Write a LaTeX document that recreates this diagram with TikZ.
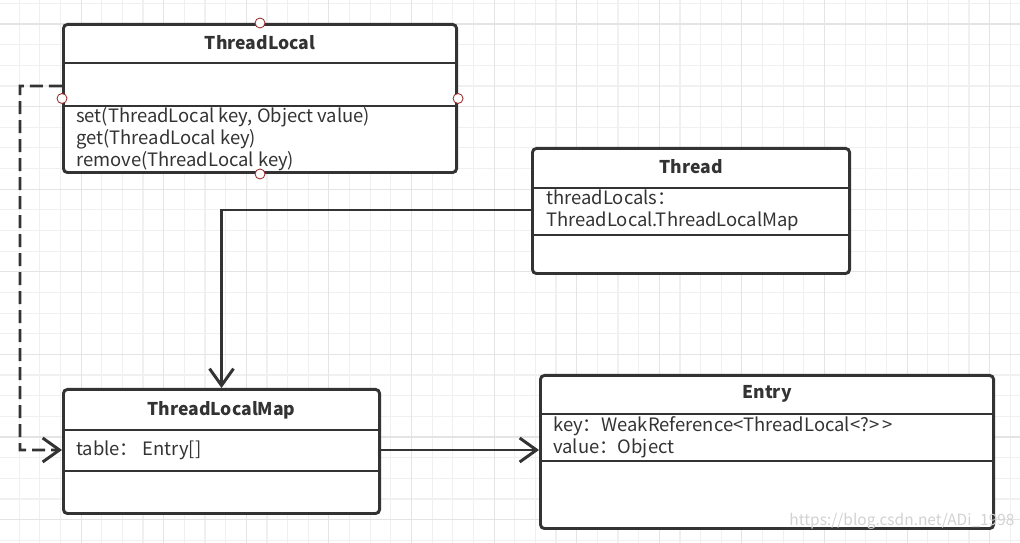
\documentclass[tikz,border=0pt]{standalone}
\usepackage{fontspec}
\setmainfont{Noto Sans CJK SC}
\usetikzlibrary{positioning, arrows.meta, calc}
\definecolor{ink}{HTML}{333333}
\definecolor{gridfine}{HTML}{F0F0F0}
\definecolor{gridbold}{HTML}{E4E4E4}
\definecolor{handlered}{HTML}{9B2B2B}

\begin{document}
\begin{tikzpicture}[x=0.025cm, y=-0.025cm, >={Straight Barb[length=0.42cm, width=0.6cm]},
    class/.style={draw=ink, line width=2.1pt, rounded corners=2.8pt, fill=white, anchor=north west, inner sep=0pt},
    title/.style={text=ink, inner sep=0pt, font=\fontsize{12.5}{15}\selectfont\bfseries},
    member/.style={text=ink, anchor=west, align=left, inner sep=0pt, font=\fontsize{13.1}{15.4}\selectfont},
    sep/.style={draw=ink, line width=2.1pt},
    link/.style={draw=ink, line width=2.1pt, ->},
    handle/.style={circle, draw=handlered, fill=white, line width=0.6pt, minimum size=0.25cm, inner sep=0pt}]
  \useasboundingbox (0,0) rectangle (1020,543);
  \fill[white] (0,0) rectangle (1020,543);

  % background grid
  \foreach \i in {0,...,49}
    \draw[gridfine, line width=0.8pt] ({19.15+20.65*\i},0) -- ({19.15+20.65*\i},543);
  \foreach \i in {0,...,26}
    \draw[gridfine, line width=0.8pt] (0,{3.35+20.65*\i}) -- (1020,{3.35+20.65*\i});
  \foreach \i in {0,...,12}
    \draw[gridbold, line width=0.8pt] ({-1.5+82.6*\i},0) -- ({-1.5+82.6*\i},543);
  \foreach \i in {0,...,6}
    \draw[gridbold, line width=0.8pt] (0,{24+82.6*\i}) -- (1020,{24+82.6*\i});

  % classes
  \node[class, minimum width=9.825cm, minimum height=3.7cm] (tl) at (62,23) {};
  \node[class, minimum width=7.925cm, minimum height=3.125cm] (th) at (531,147) {};
  \node[class, minimum width=7.9cm, minimum height=3.1cm] (tlm) at (62,388) {};
  \node[class, minimum width=11.325cm, minimum height=3.825cm] (entry) at (539,374) {};

  \foreach \n/\a/\b in {tl/1/2.075, th/1.025/2.2, tlm/1.05/2.075, entry/1/2.175} {
    \draw[sep] ([yshift=-\a cm]\n.north west) -- ([yshift=-\a cm]\n.north east);
    \draw[sep] ([yshift=-\b cm]\n.north west) -- ([yshift=-\b cm]\n.north east);
  }

  \node[title] (tl-title) at ([yshift=-0.5cm]tl.north) {ThreadLocal};
  \node[title] (th-title) at ([yshift=-0.5cm]th.north) {Thread};
  \node[title] (tlm-title) at ([yshift=-0.55cm]tlm.north) {ThreadLocalMap};
  \node[title] (entry-title) at ([yshift=-0.5cm]entry.north) {Entry};

  \node[member] (tl-ops) at (76,139) {set(ThreadLocal key, Object value)\\get(ThreadLocal key)\\remove(ThreadLocal key)};
  \node[member] (th-attr) at (546,210) {threadLocals：\\ThreadLocal.ThreadLocalMap};
  \node[member] (tlm-attr) at (76,450) {table：~Entry[]};
  \node[member] (entry-attr) at (553,437) {key：WeakReference<ThreadLocal<?>{}\,>\\value：Object};

  % connection handles
  \foreach \a in {north, south, west, east}
    \node[handle] (tl-\a) at (tl.\a) {};

  % connectors
  \coordinate (turn) at (20,86);
  \draw[link, dash pattern=on 0.325cm off 0.15cm] ([yshift=-1.575cm]tl.north west) -- (turn) |- (tlm.west |- tlm-attr);
  \draw[link] (th.west |- th-attr) -| (tlm.north);
  \draw[link] (tlm.east |- tlm-attr) -- (entry.west |- tlm-attr);

  \node[text=gray!35, font=\fontsize{11}{13}\selectfont] (mark) at (902,521) {https://blog.csdn.net/ADi\_1998};
\end{tikzpicture}
\end{document}
